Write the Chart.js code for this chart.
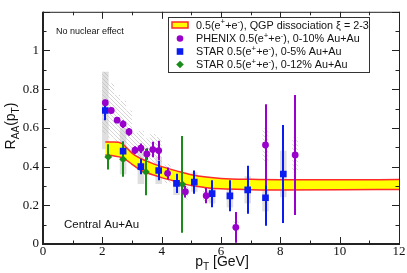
<!DOCTYPE html>
<html><head><meta charset="utf-8">
<script src="https://cdn.jsdelivr.net/npm/chart.js@4"></script>
<style>html,body{margin:0;padding:0;background:#fff;overflow:hidden}#wrap{width:407px;height:273px;position:relative}canvas{display:block}</style>
</head><body><div id="wrap"><canvas id="c" width="407" height="273" style="width:407px;height:273px"></canvas></div>
<script>
const xTicks = [0, 2, 4, 6, 8, 10, 12];
const yTicks = [0, 0.2, 0.4, 0.6, 0.8, 1];

const bandX     = [2.1, 2.4, 2.65, 2.8, 3.0, 3.25, 3.5, 3.75, 4.0, 4.5, 5.0, 5.5, 6.0, 7.0, 8.0, 10.0, 12.0];
const bandUpper = [0.527, 0.527, 0.52, 0.50, 0.47, 0.445, 0.428, 0.413, 0.40, 0.378, 0.358, 0.346, 0.339, 0.334, 0.332, 0.332, 0.333];
const bandLower = [0.46, 0.455, 0.447, 0.435, 0.412, 0.385, 0.368, 0.355, 0.343, 0.322, 0.302, 0.291, 0.285, 0.281, 0.279, 0.28, 0.282];

const phenixX    = [2.1, 2.3, 2.5, 2.7, 2.9, 3.1, 3.3, 3.5, 3.7, 3.9, 4.2, 4.8, 5.5, 6.5, 7.5, 8.5];
const phenixY    = [0.73, 0.69, 0.64, 0.62, 0.58, 0.485, 0.495, 0.465, 0.488, 0.483, 0.365, 0.27, 0.25, 0.086, 0.512, 0.46];
const phenixStat = [0.015, 0.015, 0.015, 0.02, 0.02, 0.02, 0.025, 0.03, 0.04, 0.05, 0.03, 0.03, 0.04, 0.08, 0.21, 0.31];
const phenixSys  = [0.16, 0.14, 0.13, 0.12, 0.11, 0.09, 0.09, 0.08, 0.08, 0.07, 0.05, 0.04, 0.04, 0.03, 0.085, 0.09];

const starX    = [2.1, 2.7, 3.3, 3.9, 4.5, 5.1, 5.7, 6.3, 6.9, 7.5, 8.1];
const starY    = [0.69, 0.48, 0.40, 0.38, 0.313, 0.32, 0.26, 0.249, 0.28, 0.239, 0.362];
const starStat = [0.05, 0.05, 0.04, 0.05, 0.05, 0.06, 0.07, 0.08, 0.124, 0.145, 0.253];
const starSys  = [0.2, 0.12, 0.09, 0.07, 0.06, 0.05, 0.05, 0.06, 0.07, 0.07, 0.12];

const star12X    = [2.2, 2.7, 3.47, 4.7];
const star12Y    = [0.45, 0.438, 0.372, 0.308];
const star12Stat = [0.065, 0.09, 0.12, 0.25];

const PURPLE = '#9a00cc', BLUE = '#0a1cf0', GREEN = '#1a8c1a', RED = '#ff2a2a', YELLOW = '#ffff00';
const SANS = '"Liberation Sans", Arial, sans-serif';
const SERIF = '"Liberation Serif", "Times New Roman", serif';

const pts = (xs, ys) => xs.map((x, i) => ({x, y: ys[i]}));

function rich(ctx, parts, x, y, size, measureOnly) {
  let cx = x;
  for (const p of parts) {
    const fs = p.s || p.b ? size * 0.72 : size;
    ctx.font = fs + 'px ' + SANS;
    const dy = p.s ? -size * 0.4 : (p.b ? size * 0.3 : 0);
    if (!measureOnly) ctx.fillText(p.t, cx, y + dy);
    cx += ctx.measureText(p.t).width;
  }
  return cx - x;
}

let hatch = null;
function getHatch(ctx) {
  if (hatch) return hatch;
  const c = document.createElement('canvas');
  c.width = 4; c.height = 4;
  const g = c.getContext('2d');
  g.strokeStyle = 'rgba(185,185,185,0.6)';
  g.lineWidth = 1;
  g.beginPath(); g.moveTo(0, 0); g.lineTo(4, 4); g.moveTo(-1, 3); g.lineTo(1, 5); g.moveTo(3, -1); g.lineTo(5, 1); g.stroke();
  hatch = ctx.createPattern(c, 'repeat');
  return hatch;
}

const sysPlugin = {
  id: 'sys',
  beforeDatasetsDraw(chart) {
    const {ctx, scales: {x, y}} = chart;
    ctx.save();
    ctx.fillStyle = 'rgba(210,210,210,0.7)';
    starX.forEach((xv, i) => {
      const l = x.getPixelForValue(xv - 0.11), r = x.getPixelForValue(xv + 0.11);
      const t = y.getPixelForValue(starY[i] + starSys[i]), b = y.getPixelForValue(starY[i] - starSys[i]);
      ctx.fillRect(l, t, r - l, b - t);
    });
    ctx.fillStyle = getHatch(ctx);
    phenixX.forEach((xv, i) => {
      const l = x.getPixelForValue(xv - 0.1), r = x.getPixelForValue(xv + 0.1);
      const t = y.getPixelForValue(phenixY[i] + phenixSys[i]), b = y.getPixelForValue(phenixY[i] - phenixSys[i]);
      ctx.fillRect(l, t, r - l, b - t);
    });
    ctx.restore();
  },
  afterDatasetDraw(chart, args) {
    if (args.index !== 4) return;
    const {ctx, scales: {x, y}} = chart;
    ctx.save();
    ctx.lineWidth = 2;
    const bars = (xs, ys, es, col) => {
      ctx.strokeStyle = col;
      xs.forEach((xv, i) => {
        const px = Math.round(x.getPixelForValue(xv));
        ctx.beginPath();
        ctx.moveTo(px, y.getPixelForValue(Math.min(1.2, ys[i] + es[i])));
        ctx.lineTo(px, y.getPixelForValue(Math.max(0, ys[i] - es[i])));
        ctx.stroke();
      });
    };
    bars(starX, starY, starStat, BLUE);
    bars(phenixX, phenixY, phenixStat, PURPLE);
    bars(star12X, star12Y, star12Stat, GREEN);
    ctx.restore();
  },
  afterDraw(chart) {
    const {ctx, chartArea: a, scales: {x, y}} = chart;
    ctx.save();
    // frame
    ctx.strokeStyle = '#222';
    ctx.lineWidth = 1;
    ctx.strokeRect(a.left + 0.5, a.top + 0.5, a.right - a.left, a.bottom - a.top);
    ctx.lineWidth = 2;
    ctx.beginPath();
    ctx.moveTo(a.left, a.top); ctx.lineTo(a.left, a.bottom); ctx.lineTo(a.right, a.bottom);
    ctx.stroke();
    // ticks
    ctx.lineWidth = 1;
    ctx.beginPath();
    for (let v = 0; v <= 12; v += 1) {
      const px = Math.round(x.getPixelForValue(v)) + 0.5;
      const L = v % 2 === 0 ? 7 : 3.5;
      ctx.moveTo(px, a.bottom); ctx.lineTo(px, a.bottom - L);
      ctx.moveTo(px, a.top); ctx.lineTo(px, a.top + L);
    }
    for (let k = 0; k <= 12; k++) {
      const v = k / 10;
      const py = Math.round(y.getPixelForValue(v)) + 0.5;
      const L = k % 2 === 0 ? 7 : 3.5;
      ctx.moveTo(a.left, py); ctx.lineTo(a.left + L, py);
      ctx.moveTo(a.right, py); ctx.lineTo(a.right - L, py);
    }
    ctx.stroke();

    // annotations
    ctx.fillStyle = '#111';
    ctx.textBaseline = 'alphabetic';
    ctx.font = '9px ' + SANS;
    ctx.fillText('No nuclear effect', 56, 34);
    ctx.font = '11.5px ' + SANS;
    ctx.fillText('Central Au+Au', 64, 228);

    // x title
    const xt = [{t: 'p'}, {t: 'T', b: 1}, {t: ' [GeV]'}];
    const w = rich(ctx, xt, 0, 0, 14, true);
    rich(ctx, xt, 222 - w / 2, 266, 14);
    // y title
    ctx.save();
    ctx.translate(15, 126);
    ctx.rotate(-Math.PI / 2);
    const yt = [{t: 'R'}, {t: 'AA', b: 1}, {t: '(p'}, {t: 'T', b: 1}, {t: ')'}];
    const wy = rich(ctx, yt, 0, 0, 14, true);
    rich(ctx, yt, -wy / 2, 0, 14);
    ctx.restore();

    // legend
    const L0 = 168, T0 = 17, W = 201, H = 55;
    ctx.fillStyle = '#fff';
    ctx.fillRect(L0, T0, W, H);
    ctx.strokeStyle = '#333';
    ctx.lineWidth = 1;
    ctx.strokeRect(L0 + 0.5, T0 + 0.5, W, H);
    const rows = [25, 38.5, 51.5, 64.5];
    ctx.fillStyle = YELLOW;
    ctx.fillRect(172, rows[0] - 3, 16, 6);
    ctx.strokeStyle = RED; ctx.lineWidth = 1.5;
    ctx.strokeRect(172, rows[0] - 3, 16, 6);
    ctx.fillStyle = PURPLE;
    ctx.beginPath(); ctx.arc(180, rows[1], 3.3, 0, Math.PI * 2); ctx.fill();
    ctx.fillStyle = BLUE;
    ctx.fillRect(176.7, rows[2] - 3.3, 6.6, 6.6);
    ctx.fillStyle = GREEN;
    ctx.beginPath(); ctx.moveTo(180, rows[3] - 3.8); ctx.lineTo(183.8, rows[3]); ctx.lineTo(180, rows[3] + 3.8); ctx.lineTo(176.2, rows[3]); ctx.closePath(); ctx.fill();
    ctx.fillStyle = '#111';
    const ee = [{t: '0.5(e'}, {t: '+', s: 1}, {t: '+e'}, {t: '-', s: 1}, {t: '),'}];
    const texts = [
      ee.concat([{t: ' QGP dissociation \u03be = 2-3'}]),
      [{t: 'PHENIX '}].concat(ee, [{t: ' 0-10% Au+Au'}]),
      [{t: 'STAR '}].concat(ee, [{t: ' 0-5% Au+Au'}]),
      [{t: 'STAR '}].concat(ee, [{t: ' 0-12% Au+Au'}])
    ];
    texts.forEach((p, i) => rich(ctx, p, 196, rows[i] + 3.8, 10.8));
    ctx.restore();
  }
};

new Chart(document.getElementById('c'), {
  type: 'scatter',
  data: {
    datasets: [
      {label: 'PHENIX', data: pts(phenixX, phenixY), pointStyle: 'circle', pointRadius: 3.4, backgroundColor: PURPLE, borderWidth: 0, order: 1},
      {label: 'STAR 0-5%', data: pts(starX, starY), pointStyle: 'rect', pointRadius: 4.7, backgroundColor: BLUE, borderWidth: 0, order: 1},
      {label: 'STAR 0-12%', data: pts(star12X, star12Y), pointStyle: 'rectRot', pointRadius: 3.9, backgroundColor: GREEN, borderWidth: 0, order: 1},
      {type: 'line', label: 'upper', data: pts(bandX, bandUpper), borderColor: RED, borderWidth: 1.5, pointRadius: 0, fill: '+1', backgroundColor: YELLOW, cubicInterpolationMode: 'monotone', order: 10},
      {type: 'line', label: 'lower', data: pts(bandX, bandLower), borderColor: RED, borderWidth: 1.5, pointRadius: 0, fill: false, cubicInterpolationMode: 'monotone', order: 9}
    ]
  },
  options: {
    responsive: false, animation: false, devicePixelRatio: 1,
    layout: {padding: {top: 1, right: 8, left: 0, bottom: 0}},
    plugins: {legend: {display: false}, tooltip: {enabled: false}},
    scales: {
      x: {
        type: 'linear', min: 0, max: 12,
        afterBuildTicks: s => { s.ticks = xTicks.map(v => ({value: v})); },
        afterFit: s => { s.height = 29; },
        grid: {display: false, drawTicks: false}, border: {display: false},
        ticks: {font: {family: SERIF, size: 13}, color: '#111', padding: 0, maxRotation: 0}
      },
      y: {
        type: 'linear', min: 0, max: 1.2,
        afterBuildTicks: s => { s.ticks = yTicks.map(v => ({value: v})); },
        afterFit: s => { s.width = 43; },
        grid: {display: false, drawTicks: false}, border: {display: false},
        ticks: {font: {family: SERIF, size: 13}, color: '#111', padding: 4, callback: v => String(Math.round(v * 10) / 10)}
      }
    }
  },
  plugins: [sysPlugin]
});
</script>
</body></html>
